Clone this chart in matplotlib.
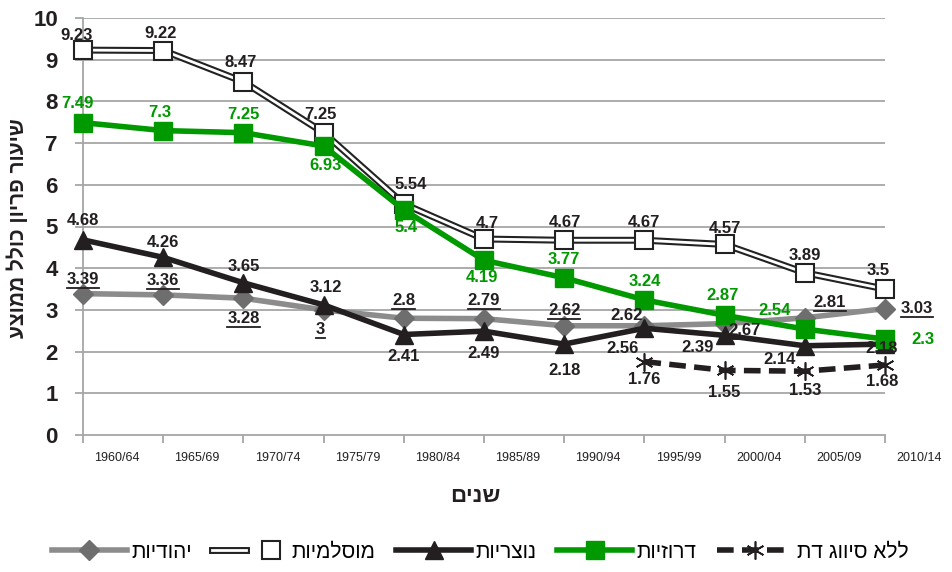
import matplotlib
matplotlib.use('Agg')
import matplotlib.pyplot as plt
import matplotlib.patheffects as pe
from matplotlib.lines import Line2D
from matplotlib.legend_handler import HandlerTuple
from matplotlib.transforms import ScaledTranslation

plt.rcParams['font.family'] = ['Liberation Sans', 'DejaVu Sans']


def rtl(s):
    # matplotlib has no bidi support, so flip Hebrew by hand
    return s[::-1]


periods = ['1960/64', '1965/69', '1970/74', '1975/79', '1980/84', '1985/89',
           '1990/94', '1995/99', '2000/04', '2005/09', '2010/14']
jews = [3.39, 3.36, 3.28, 3, 2.8, 2.79, 2.62, 2.62, 2.67, 2.81, 3.03]
muslims = [9.23, 9.22, 8.47, 7.25, 5.54, 4.7, 4.67, 4.67, 4.57, 3.89, 3.5]
christians = [4.68, 4.26, 3.65, 3.12, 2.41, 2.49, 2.18, 2.56, 2.39, 2.14, 2.18]
druze = [7.49, 7.3, 7.25, 6.93, 5.4, 4.19, 3.77, 3.24, 2.87, 2.54, 2.3]
no_rel_idx = [7, 8, 9, 10]
no_rel = [1.76, 1.55, 1.53, 1.68]

names = ['יהודיות', 'מוסלמיות', 'נוצריות', 'דרוזיות', 'ללא סיווג דת']

x = list(range(len(periods)))

fig = plt.figure(figsize=(9.52, 5.72), dpi=100)
ax = fig.add_axes([83 / 952, 1 - 435 / 572, 802 / 952, 417 / 572])
ax.set_xlim(0, 10)
ax.set_ylim(0, 10)

for y in range(1, 11):
    ax.axhline(y, color='#a6a6a6', lw=1.3, zorder=0)

# jews
h_j, = ax.plot(x, jews, color='#8c8c8c', lw=4, marker='D', ms=10,
               mfc='#6e6e6e', mec='#6e6e6e', clip_on=False, zorder=3)
# muslims - double line
ax.plot(x, muslims, color='white', lw=2, clip_on=False, zorder=3,
        path_effects=[pe.Stroke(linewidth=5, foreground='#222222'), pe.Normal()])
h_m_mk, = ax.plot(x, muslims, ls='none', marker='s', ms=13, mfc='white',
                  mec='#222222', mew=1.5, clip_on=False, zorder=4)
h_m_ln = Line2D([], [], color='white', lw=2,
                path_effects=[pe.Stroke(linewidth=5, foreground='#222222'), pe.Normal()])
# christians
h_c, = ax.plot(x, christians, color='#231f20', lw=4, marker='^', ms=13,
               clip_on=False, zorder=5)
# druze
h_d, = ax.plot(x, druze, color='#009900', lw=4, marker='s', ms=13,
               clip_on=False, zorder=6)
# no religion
h_n, = ax.plot(no_rel_idx, no_rel, color='#231f20', lw=4, ls=(0, (3, 1.5)),
               marker=(6, 2, 0), ms=13, mec='#231f20', mew=1.2,
               clip_on=False, zorder=5)

# label offsets in pixels (dx, dy up)
jews_off = [(0, 14), (0, 14), (0, -20), (-3, -20), (0, 18), (0, 18), (0, 15),
            (-18, 10), (20, -7), (25, 15), (32, 0)]
jews_line = [True] * 11
jews_line[7] = False
mus_off = [(-6, 15), (-3, 17), (-3, 19), (-3, 18), (7, 19), (3, 16), (1, 18),
           (0, 18), (0, 16), (0, 17), (-7, 19)]
chr_off = [(0, 19), (0, 15), (0, 16), (2, 17), (0, -22), (0, -22), (0, -26),
           (-22, -20), (-27, -12), (-25, -14), (-3, -4)]
dru_off = [(-6, 19), (-3, 18), (0, 18), (2, -19), (2, -18), (-2, -17),
           (0, 18), (0, 18), (-2, 20), (-30, 19), (38, 0)]
none_off = [(0, -18), (0, -22), (0, -19), (-3, -17)]

lab_kw = dict(textcoords='offset points', ha='center', va='center',
              fontsize=12, fontweight='bold', annotation_clip=False, zorder=8)
px = 0.72

under = []
for i, v in enumerate(jews):
    t = ax.annotate(f'{v:g}', (i, v), xytext=(jews_off[i][0] * px, jews_off[i][1] * px),
                    color='#231f20', **lab_kw)
    if jews_line[i]:
        under.append(t)
for i, v in enumerate(muslims):
    ax.annotate(f'{v:g}', (i, v), xytext=(mus_off[i][0] * px, mus_off[i][1] * px),
                color='#231f20', **lab_kw)
for i, v in enumerate(christians):
    ax.annotate(f'{v:g}', (i, v), xytext=(chr_off[i][0] * px, chr_off[i][1] * px),
                color='#231f20', **lab_kw)
for i, v in enumerate(druze):
    ax.annotate(f'{v:g}', (i, v), xytext=(dru_off[i][0] * px, dru_off[i][1] * px),
                color='#009900', **lab_kw)
for k, (i, v) in enumerate(zip(no_rel_idx, no_rel)):
    ax.annotate(f'{v:g}', (i, v), xytext=(none_off[k][0] * px, none_off[k][1] * px),
                color='#231f20', **lab_kw)

# axes styling
for s in ['top', 'right']:
    ax.spines[s].set_visible(False)
ax.spines['left'].set_color('#a6a6a6')
ax.spines['bottom'].set_color('#a6a6a6')
ax.spines['left'].set_linewidth(1.3)
ax.spines['bottom'].set_linewidth(1.3)
ax.set_yticks(range(0, 11))
ax.tick_params(axis='y', labelsize=16, length=6, width=1.3, color='#a6a6a6',
               pad=12, labelcolor='#231f20')
for lab in ax.get_yticklabels():
    lab.set_fontweight('bold')
ax.set_xticks(x)
ax.set_xticklabels(periods, fontsize=9, color='#231f20')
ax.tick_params(axis='x', length=6, width=1.3, color='#a6a6a6', pad=6)
shift = ScaledTranslation(0.34, 0, fig.dpi_scale_trans)
for lab in ax.get_xticklabels():
    lab.set_transform(lab.get_transform() + shift)

fig.text(475 / 952, 1 - 497 / 572, rtl('שנים'), ha='center', va='center',
         fontsize=16, fontweight='bold', color='#231f20')
fig.text(17 / 952, 1 - 228 / 572, rtl('שיעור פריון כולל ממוצע'), rotation=90,
         ha='center', va='center', fontsize=15, fontweight='bold', color='#231f20')

handles = [h_j, (h_m_ln, h_m_mk), h_c, h_d, h_n]
fig.legend(handles, [rtl(n) for n in names], loc='center',
           bbox_to_anchor=(480 / 952, 1 - 552 / 572), ncol=5, frameon=False,
           fontsize=15, handlelength=3.6, handletextpad=0.2, columnspacing=1.0,
           handler_map={tuple: HandlerTuple(ndivide=None)})

# underline the Jewish series labels
fig.canvas.draw()
r = fig.canvas.get_renderer()
for t in under:
    bb = t.get_window_extent(r)
    yb = bb.y0 - 1
    fig.add_artist(Line2D([bb.x0 / fig.bbox.width, bb.x1 / fig.bbox.width],
                          [yb / fig.bbox.height, yb / fig.bbox.height],
                          color='#231f20', lw=1.3))

fig.savefig('out.png', dpi=100)
